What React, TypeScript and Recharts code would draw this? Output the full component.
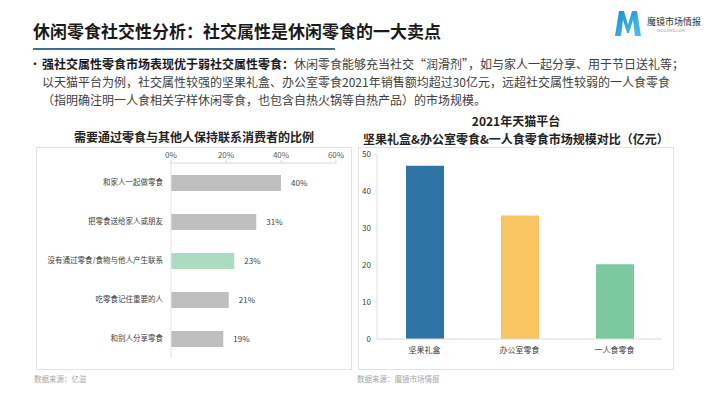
import React from "react";
import {
  BarChart,
  Bar,
  XAxis,
  YAxis,
  Cell,
  LabelList,
} from "recharts";

const FONT = '"Noto Sans CJK SC", "Noto Sans", sans-serif';

// Left chart data
const leftCategories = [
  "和家人一起做零食",
  "把零食送给家人或朋友",
  "没有通过零食/食物与他人产生联系",
  "吃零食记住重要的人",
  "和别人分享零食",
];
const leftValues = [40, 31, 23, 21, 19];
const leftColors = ["#bfbfbf", "#bfbfbf", "#a9dcc0", "#bfbfbf", "#bfbfbf"];
const leftTicks = [0, 20, 40, 60];

// Right chart data
const rightCategories = ["坚果礼盒", "办公室零食", "一人食零食"];
const rightValues = [46.8, 33.4, 20.2];
const rightColors = ["#2e75a6", "#f9c462", "#7cc9a0"];
const rightTicks = [0, 10, 20, 30, 40, 50];

const leftData = leftCategories.map((name, i) => ({ name, value: leftValues[i] }));
const rightData = rightCategories.map((name, i) => ({ name, value: rightValues[i] }));

const Logo = () => (
  <div style={{ position: "absolute", left: 613, top: 9, width: 95, height: 30 }}>
    <svg width={30} height={28} style={{ position: "absolute", left: 0, top: 0 }}>
      <defs>
        <linearGradient id="lg" x1="0" y1="0" x2="1" y2="1">
          <stop offset="0" stopColor="#1f8fd0" />
          <stop offset="1" stopColor="#49c3e8" />
        </linearGradient>
      </defs>
      <path
        d="M2 27 L6 2 L11 2 L15 16 L19 2 L24 2 L28 27 L22 27 L20 11 L16 24 L14 24 L10 11 L8 27 Z"
        fill="url(#lg)"
      />
    </svg>
    <div style={{ position: "absolute", left: 34, top: 6, fontSize: 9, color: "#333", whiteSpace: "nowrap", fontFamily: FONT }}>
      魔镜市场情报
    </div>
    <div style={{ position: "absolute", left: 44, top: 18, fontSize: 4, color: "#999", whiteSpace: "nowrap", fontFamily: FONT }}>
      MOOJING.COM
    </div>
  </div>
);

export default function App() {
  const lineStyle: React.CSSProperties = {
    position: "absolute",
    left: 42,
    fontSize: 12,
    color: "#404040",
    whiteSpace: "nowrap",
    lineHeight: "14px",
  };
  const rtitle: React.CSSProperties = {
    position: "absolute",
    left: 358,
    width: 316,
    textAlign: "center",
    fontSize: 12,
    fontWeight: 700,
    color: "#222",
    lineHeight: "14px",
    height: 14,
    whiteSpace: "nowrap",
  };
  return (
    <div
      style={{
        position: "absolute",
        left: 0,
        top: 0,
        width: 710,
        height: 399,
        background: "#fff",
        overflow: "hidden",
        fontFamily: FONT,
      }}
    >
      <div
        style={{
          position: "absolute",
          left: 33,
          top: 20,
          fontSize: 17,
          fontWeight: 700,
          color: "#1a1a1a",
          whiteSpace: "nowrap",
          lineHeight: "22px",
        }}
      >
        休闲零食社交性分析：社交属性是休闲零食的一大卖点
      </div>
      <div style={{ position: "absolute", left: 33, top: 48, width: 302, height: 2, background: "#3d7092" }} />
      <Logo />

      <div style={{ ...lineStyle, left: 29, top: 57, color: "#222" }}>•</div>
      <div style={{ ...lineStyle, top: 57 }}>
        <span style={{ fontWeight: 700, color: "#1a1a1a" }}>强社交属性零食市场表现优于弱社交属性零食：</span>
        休闲零食能够充当社交“润滑剂”，如与家人一起分享、用于节日送礼等；
      </div>
      <div style={{ ...lineStyle, top: 75 }}>
        以天猫平台为例，社交属性较强的坚果礼盒、办公室零食2021年销售额均超过30亿元，远超社交属性较弱的一人食零食
      </div>
      <div style={{ ...lineStyle, top: 93 }}>
        （指明确注明一人食相关字样休闲零食，也包含自热火锅等自热产品）的市场规模。
      </div>

      {/* Left chart */}
      <div
        style={{
          position: "absolute",
          left: 36,
          top: 129,
          width: 316,
          textAlign: "center",
          fontSize: 12,
          fontWeight: 700,
          color: "#222",
          lineHeight: "16px",
        }}
      >
        需要通过零食与其他人保持联系消费者的比例
      </div>
      <div
        style={{
          position: "absolute",
          left: 36,
          top: 147,
          width: 316,
          height: 223,
          border: "1px solid #e3e3e3",
          boxSizing: "border-box",
        }}
      />
      <div style={{ position: "absolute", left: 36, top: 147 }}>
        <BarChart
          width={316}
          height={223}
          data={leftData}
          layout="vertical"
          margin={{ top: 0, right: 16, bottom: 12, left: 0 }}
          barSize={16}
        >
          <XAxis
            type="number"
            orientation="top"
            domain={[0, 60]}
            ticks={leftTicks}
            tickFormatter={(v: number) => `${v}%`}
            height={16}
            tickSize={3}
            tickMargin={2}
            axisLine={{ stroke: "#d9d9d9" }}
            tickLine={{ stroke: "#d9d9d9" }}
            tick={{ fontSize: 8, fill: "#595959" }}
            interval={0}
          />
          <YAxis
            type="category"
            dataKey="name"
            width={135}
            tickSize={0}
            tickMargin={8}
            axisLine={{ stroke: "#e3e3e3" }}
            tickLine={false}
            tick={{ fontSize: 7.5, fill: "#404040" }}
            interval={0}
          />
          <Bar dataKey="value" isAnimationActive={false}>
            {leftData.map((d, i) => (
              <Cell key={d.name} fill={leftColors[i]} />
            ))}
            <LabelList
              dataKey="value"
              position="right"
              offset={10}
              formatter={(v: number) => `${v}%`}
              style={{ fontSize: 8, fill: "#404040" }}
            />
          </Bar>
        </BarChart>
      </div>
      <div style={{ position: "absolute", left: 34, top: 373, fontSize: 7.5, color: "#a6a6a6", whiteSpace: "nowrap" }}>
        数据来源：亿滋
      </div>

      {/* Right chart */}
      <div style={{ ...rtitle, top: 114 }}>2021年天猫平台</div>
      <div style={{ ...rtitle, top: 132 }}>坚果礼盒&办公室零食&一人食零食市场规模对比（亿元）</div>
      <div
        style={{
          position: "absolute",
          left: 358,
          top: 147,
          width: 316,
          height: 223,
          border: "1px solid #e3e3e3",
          boxSizing: "border-box",
        }}
      />
      <div style={{ position: "absolute", left: 358, top: 147 }}>
        <BarChart
          width={316}
          height={223}
          data={rightData}
          margin={{ top: 7, right: 12, bottom: 0, left: 0 }}
          barSize={38}
        >
          <XAxis
            dataKey="name"
            height={31}
            tickSize={0}
            tickMargin={8}
            axisLine={{ stroke: "#d9d9d9" }}
            tickLine={false}
            tick={{ fontSize: 8, fill: "#404040" }}
            interval={0}
          />
          <YAxis
            type="number"
            domain={[0, 50]}
            ticks={rightTicks}
            width={19}
            tickSize={2}
            tickMargin={4}
            axisLine={{ stroke: "#e3e3e3" }}
            tickLine={{ stroke: "#e3e3e3" }}
            tick={{ fontSize: 8, fill: "#404040" }}
            interval={0}
          />
          <Bar dataKey="value" isAnimationActive={false}>
            {rightData.map((d, i) => (
              <Cell key={d.name} fill={rightColors[i]} />
            ))}
          </Bar>
        </BarChart>
      </div>
      <div style={{ position: "absolute", left: 357, top: 373, fontSize: 7.5, color: "#a6a6a6", whiteSpace: "nowrap" }}>
        数据来源：魔镜市场情报
      </div>
    </div>
  );
}
